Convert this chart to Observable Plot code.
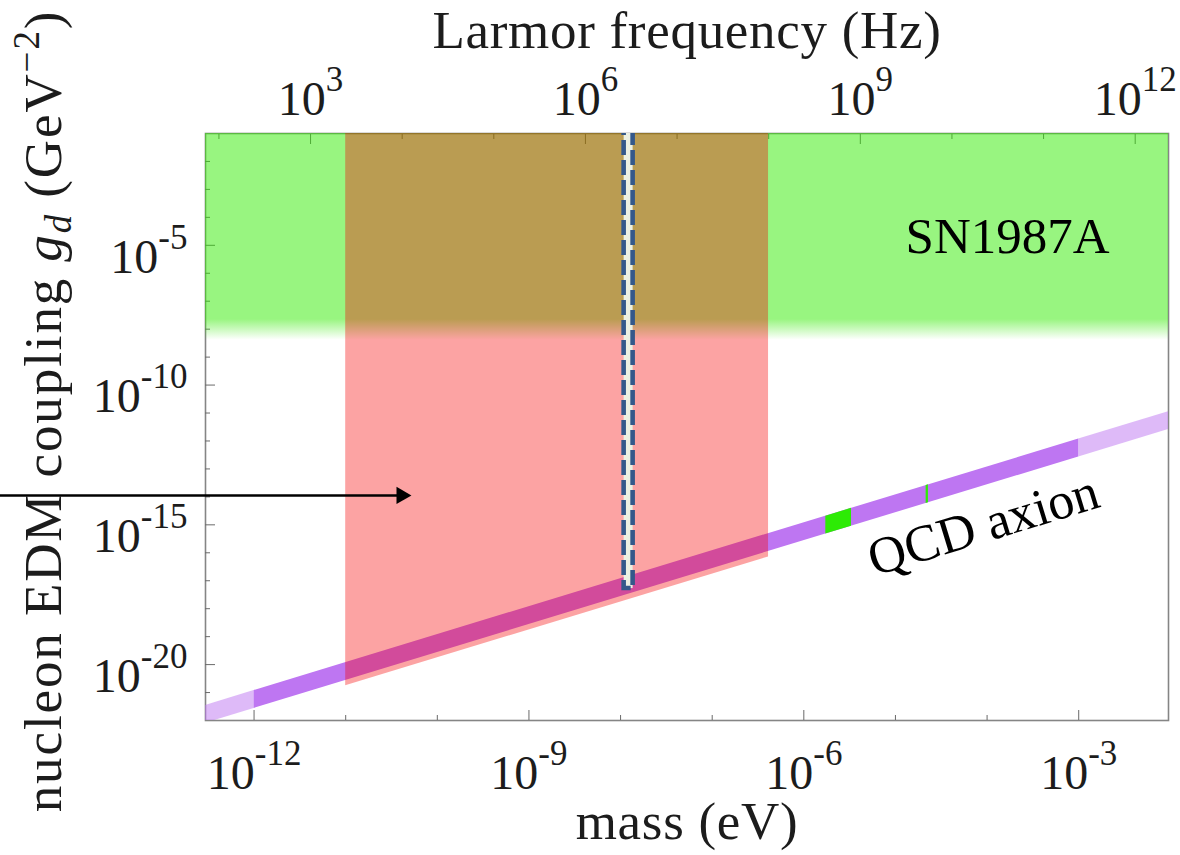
<!DOCTYPE html>
<html>
<head>
<meta charset="utf-8">
<script src="https://cdn.jsdelivr.net/npm/d3@7"></script>
<script src="https://cdn.jsdelivr.net/npm/@observablehq/plot@0.6"></script>
<style>
  html, body { margin: 0; padding: 0; background: #fff; }
</style>
</head>
<body>
<div id="chart"></div>
<script>
// ---------------- data ----------------
const massDomain = [10 ** -12.53, 10 ** -2.02];      // eV
const couplingDomain = [1e-22, 1e-1];                // GeV^-2
const PLANCK_EV_S = 4.135667696e-15;                 // eV·s  (mass -> Larmor frequency)

const massMajorTicks = [1e-12, 1e-9, 1e-6, 1e-3];
const massMajorLabels = ["10^-12", "10^-9", "10^-6", "10^-3"];
const massMinorTicks = [1e-11, 1e-10, 1e-8, 1e-7, 1e-5, 1e-4];

const freqMajorTicks = [1e3, 1e6, 1e9, 1e12];        // Hz
const freqMajorLabels = ["10^3", "10^6", "10^9", "10^12"];
const freqMinorTicks = [1e2, 1e4, 1e5, 1e7, 1e8, 1e10, 1e11];

const couplingMajorTicks = [1e-20, 1e-15, 1e-10, 1e-5];
const couplingMajorLabels = ["10^-20", "10^-15", "10^-10", "10^-5"];
const couplingMinorTicks = [1e-21, 1e-19, 1e-18, 1e-17, 1e-16, 1e-14, 1e-13, 1e-12, 1e-11,
                            1e-9, 1e-8, 1e-7, 1e-6, 1e-4, 1e-3, 1e-2];

// SN1987A excluded region (whole mass range, fading lower edge)
const snMass = [1e-13, 1];
const snCoupling = [10 ** -8.4, 10 ** -7.65, 1e-1];   // fade end, solid edge, top

// red excluded region
const redMass = [1e-11, 10 ** -6.385];
const redLower = [10 ** -20.76, 10 ** -16.15];
const redUpper = [1e-1, 1e-1];

// QCD axion band (breakpoints: light | solid | light)
const qcdMass = [1e-13, 1e-12, 1e-3, 10 ** -1.5];
const qcdUpper = [10 ** -21.93, 10 ** -20.93, 10 ** -11.93, 10 ** -10.43];
const qcdLower = [10 ** -22.57, 10 ** -21.57, 10 ** -12.57, 10 ** -11.07];

// green segments on the QCD band
const admxMass = [10 ** -5.76, 10 ** -5.48];
const admxUpper = [10 ** -14.69, 10 ** -14.41];
const admxLower = [10 ** -15.33, 10 ** -15.05];
const thinMass = [10 ** -4.665, 10 ** -4.64];
const thinUpper = [10 ** -13.595, 10 ** -13.57];
const thinLower = [10 ** -14.235, 10 ** -14.21];

// dashed projected-sensitivity bar
const barMass = [10 ** -7.961, 10 ** -7.863];
const barCoupling = [10 ** -17.28, 10 ** -0.5];

// arrow
const arrowMass = [1e-15, 10 ** -10.424];
const arrowCoupling = 10 ** -13.95;
const arrowHeadMass = 10 ** -10.391;

// labels
const snLabel = {text: "SN1987A", m: 10 ** -4.89, g: 10 ** -4.68};
const qcdLabel = {text: "QCD axion", m: 10 ** -4.04, g: 10 ** -15.02};
const xTitle = "mass (eV)";
const topTitle = "Larmor frequency (Hz)";
const yTitle = "nucleon EDM coupling g_d (GeV^−2)";

// ---------------- build tables ----------------
const band = (ms, lo, hi, i0, i1) => [i0, i1].map(i => ({m: ms[i], lo: lo[i], hi: hi[i]}));
const qcdLightLeft = band(qcdMass, qcdLower, qcdUpper, 0, 1);
const qcdSolid = band(qcdMass, qcdLower, qcdUpper, 1, 2);
const qcdLightRight = band(qcdMass, qcdLower, qcdUpper, 2, 3);
const admx = band(admxMass, admxLower, admxUpper, 0, 1);
const thin = band(thinMass, thinLower, thinUpper, 0, 1);
const red = band(redMass, redLower, redUpper, 0, 1);

const frameGray = "#858585";
const tickGray = "#6a6a6a";
const textColor = "#1c1c1c";
const purple = "rgb(190,118,242)";
const green = "rgb(45,235,5)";

const svg = Plot.plot({
  width: 1180,
  height: 855,
  marginLeft: 205,
  marginRight: 12,
  marginTop: 133,
  marginBottom: 135,
  style: {fontFamily: "'Liberation Serif', 'Times New Roman', serif", fontSize: "48px", color: textColor, background: "#fff"},
  x: {type: "log", domain: massDomain},
  y: {type: "log", domain: couplingDomain},
  marks: [
    Plot.frame({stroke: frameGray, strokeWidth: 1.6}),
    // ticks (inward)
    Plot.axisX(massMajorTicks, {anchor: "bottom", tickSize: -10, tickFormat: () => "", stroke: tickGray, label: null}),
    Plot.axisX(massMinorTicks, {anchor: "bottom", tickSize: -5, tickFormat: () => "", stroke: tickGray, label: null}),
    Plot.axisX(freqMajorTicks.map(f => f * PLANCK_EV_S), {anchor: "top", tickSize: -10, tickFormat: () => "", stroke: tickGray, label: null}),
    Plot.axisX(freqMinorTicks.map(f => f * PLANCK_EV_S), {anchor: "top", tickSize: -5, tickFormat: () => "", stroke: tickGray, label: null}),
    Plot.axisY(couplingMajorTicks, {anchor: "left", tickSize: -10, tickFormat: () => "", stroke: tickGray, label: null}),
    Plot.axisY(couplingMinorTicks, {anchor: "left", tickSize: -5, tickFormat: () => "", stroke: tickGray, label: null}),

    // SN1987A region with fading lower edge
    Plot.rect([{x1: snMass[0], x2: snMass[1], y1: snCoupling[0], y2: snCoupling[2]}],
      {x1: "x1", x2: "x2", y1: "y1", y2: "y2", fill: "url(#snFade)", clip: true}),

    // QCD axion band
    Plot.areaY(qcdLightLeft, {x: "m", y1: "lo", y2: "hi", fill: purple, fillOpacity: 0.5, clip: true}),
    Plot.areaY(qcdSolid, {x: "m", y1: "lo", y2: "hi", fill: purple, clip: true}),
    Plot.areaY(qcdLightRight, {x: "m", y1: "lo", y2: "hi", fill: purple, fillOpacity: 0.5, clip: true}),
    Plot.areaY(admx, {x: "m", y1: "lo", y2: "hi", fill: green, clip: true}),
    Plot.areaY(thin, {x: "m", y1: "lo", y2: "hi", fill: green, clip: true}),

    // red excluded region
    Plot.areaY(red, {x: "m", y1: "lo", y2: "hi", fill: "rgb(247,0,0)", fillOpacity: 0.36, clip: true}),

    // dashed bar
    Plot.rect([{x1: barMass[0], x2: barMass[1], y1: barCoupling[0], y2: barCoupling[1]}],
      {x1: "x1", x2: "x2", y1: "y1", y2: "y2", fill: "#ECF0E2", stroke: "#34588A",
       strokeWidth: 4.6, strokeDasharray: "15,5", clip: true}),

    // arrow
    Plot.link([{x1: arrowMass[0], x2: arrowMass[1], y: arrowCoupling}],
      {x1: "x1", x2: "x2", y1: "y", y2: "y", stroke: "#000", strokeWidth: 2.6}),
    Plot.dot([{x: arrowHeadMass, y: arrowCoupling}],
      {x: "x", y: "y", symbol: "triangle", rotate: 90, r: 6.4, fill: "#000", stroke: "none"}),

    // region labels
    Plot.text([snLabel], {x: "m", y: "g", text: "text", textAnchor: "start", lineAnchor: "middle", fontSize: 51, fill: "#000"}),
    Plot.text([qcdLabel], {x: "m", y: "g", text: "text", rotate: -17, lineAnchor: "middle", fontSize: 52, fill: "#000"}),

    // tick labels
    Plot.text(massMajorTicks, {x: d => d, text: (d, i) => massMajorLabels[i], frameAnchor: "bottom", textAnchor: "middle", lineAnchor: "middle", dy: 53, fontSize: 48}),
    Plot.text(freqMajorTicks, {x: d => d * PLANCK_EV_S, text: (d, i) => freqMajorLabels[i], frameAnchor: "top", textAnchor: "middle", lineAnchor: "middle", dy: -34, fontSize: 48}),
    Plot.text(couplingMajorTicks, {y: d => d, text: (d, i) => couplingMajorLabels[i], frameAnchor: "left", textAnchor: "end", lineAnchor: "middle", dx: -18, dy: 12, fontSize: 48}),

    // axis titles
    Plot.text([topTitle], {text: d => d, frameAnchor: "top", textAnchor: "middle", lineAnchor: "middle", dy: -102, fontSize: 53}),
    Plot.text([xTitle], {text: d => d, frameAnchor: "bottom", textAnchor: "middle", lineAnchor: "middle", dy: 102, fontSize: 53}),
    Plot.text([yTitle], {text: d => d, frameAnchor: "left", textAnchor: "middle", lineAnchor: "middle", rotate: -90, dx: -161, dy: -16, fontSize: 53})
  ]
});

document.getElementById("chart").append(svg);

// ---------------- post-processing (gradient + math-style text) ----------------
const ns = "http://www.w3.org/2000/svg";
const L = Math.log10;
const solidOffset = (L(snCoupling[2]) - L(snCoupling[1])) / (L(snCoupling[2]) - L(snCoupling[0]));
const defs = document.createElementNS(ns, "defs");
const grad = document.createElementNS(ns, "linearGradient");
grad.setAttribute("id", "snFade");
grad.setAttribute("x1", "0"); grad.setAttribute("y1", "0");
grad.setAttribute("x2", "0"); grad.setAttribute("y2", "1");
[[0, 0.5], [solidOffset, 0.5], [1, 0]].forEach(([o, op]) => {
  const s = document.createElementNS(ns, "stop");
  s.setAttribute("offset", o);
  s.setAttribute("stop-color", "rgb(49,235,0)");
  s.setAttribute("stop-opacity", op);
  grad.appendChild(s);
});
defs.appendChild(grad);
svg.insertBefore(defs, svg.firstChild);

function tspan(txt, attrs = {}) {
  const t = document.createElementNS(ns, "tspan");
  t.textContent = txt;
  for (const [k, v] of Object.entries(attrs)) t.setAttribute(k, v);
  return t;
}

Array.from(svg.querySelectorAll("text")).forEach(t => {
  const s = t.textContent;
  if (s === yTitle) {
    const [pre, rest] = s.split("g_d");
    const [mid, exp] = rest.split("^");
    t.textContent = "";
    t.setAttribute("letter-spacing", "1.9");
    t.append(
      tspan(pre),
      tspan("g", {"font-style": "italic"}),
      tspan("d", {"font-style": "italic", "font-size": 37, dy: 10}),
      tspan(mid, {dy: -10}),
      tspan(exp.replace(")", ""), {"font-size": 37, dy: -22}),
      tspan(")", {dy: 22})
    );
  } else if (s === topTitle || s === xTitle) {
    t.setAttribute("letter-spacing", "0.7");
  } else if (/^10\^/.test(s)) {
    const [base, exp] = s.split("^");
    t.textContent = "";
    t.append(tspan(base), tspan(exp, {"font-size": 35, dy: -24}));
  }
});
</script>
</body>
</html>
